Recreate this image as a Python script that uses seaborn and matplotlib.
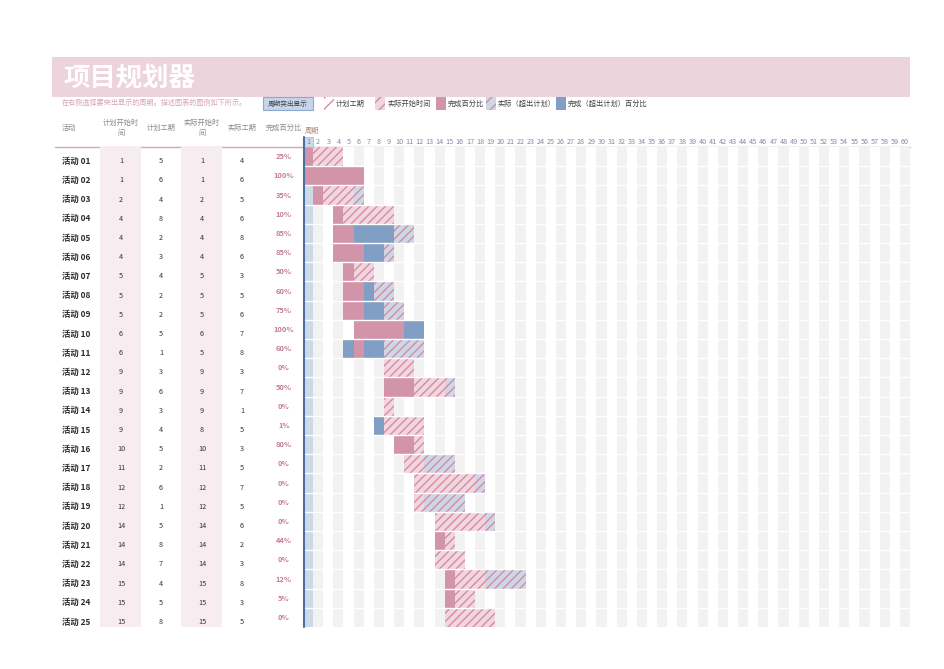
import numpy as np
import pandas as pd
import matplotlib
matplotlib.use("Agg")
import matplotlib.pyplot as plt
import seaborn as sns
from matplotlib.colors import ListedColormap
from matplotlib.patches import Rectangle

# ---------------- data ----------------
activities = ["活动 01", "活动 02", "活动 03", "活动 04", "活动 05", "活动 06", "活动 07",
              "活动 08", "活动 09", "活动 10", "活动 11", "活动 12", "活动 13", "活动 14",
              "活动 15", "活动 16", "活动 17", "活动 18", "活动 19", "活动 20", "活动 21",
              "活动 22", "活动 23", "活动 24", "活动 25"]
plan_start = [1, 1, 2, 4, 4, 4, 5, 5, 5, 6, 6, 9, 9, 9, 9, 10, 11, 12, 12, 14, 14, 14, 15, 15, 15]
plan_dur = [5, 6, 4, 8, 2, 3, 4, 2, 2, 5, 1, 3, 6, 3, 4, 5, 2, 6, 1, 5, 8, 7, 4, 5, 8]
actual_start = [1, 1, 2, 4, 4, 4, 5, 5, 5, 6, 5, 9, 9, 9, 8, 10, 11, 12, 12, 14, 14, 14, 15, 15, 15]
actual_dur = [4, 6, 5, 6, 8, 6, 3, 5, 6, 7, 8, 3, 7, 1, 5, 3, 5, 7, 5, 6, 2, 3, 8, 3, 5]
pct_complete = [0.25, 1.00, 0.35, 0.10, 0.85, 0.85, 0.50, 0.60, 0.75, 1.00, 0.60, 0.00, 0.50,
                0.00, 0.01, 0.80, 0.00, 0.00, 0.00, 0.00, 0.44, 0.00, 0.12, 0.05, 0.00]
periods = list(range(1, 61))
highlight_period = 1

headers = ["活动", "计划开始时\n间", "计划工期", "实际开始时\n间", "实际工期", "完成百分比"]
legend_labels = ["计划工期", "实际开始时间", "完成百分比", "实际（超出计划）", "完成（超出计划）百分比"]
title = "项目规划器"
subtitle = "在右侧选择要突出显示的周期。描述图表的图例如下所示。"

# ---------------- style ----------------
sns.set_theme(style="white")
plt.rcParams["font.family"] = ["Noto Sans CJK SC", "DejaVu Sans"]
plt.rcParams["hatch.linewidth"] = 1.0

C_WHITE = "#FFFFFF"
C_GREY = "#F2F2F2"
C_HL = "#CCD9E7"
C_HPINK = "#F0D6DF"
C_HBLUE = "#CCD8E6"
C_PINK = "#D194A8"
C_BLUE = "#819FC4"
C_HATCH = "#D88AA5"
C_BANNER = "#EDD3DC"
C_TABLE = "#F7ECF0"

# ---------------- cell states ----------------
n_rows, n_per = len(activities), len(periods)
codes = np.zeros((n_rows, n_per), dtype=int)
for i in range(n_rows):
    a, d, ps, pdur, pc = actual_start[i], actual_dur[i], plan_start[i], plan_dur[i], pct_complete[i]
    done_end = int(round(a + d * pc, 6))
    for j, p in enumerate(periods):
        if p == highlight_period:
            base = 2
        else:
            base = 1 if p % 2 == 0 else 0
        c = base
        if a <= p < a + d:
            in_plan = ps <= p < ps + pdur
            done = (p < done_end) or (p == a and pc > 0)
            if done:
                c = 5 if in_plan else 6
            else:
                c = 3 if in_plan else 4
        codes[i, j] = c

grid = pd.DataFrame(codes, index=activities, columns=periods)
cmap = ListedColormap([C_WHITE, C_GREY, C_HL, C_HPINK, C_HBLUE, C_PINK, C_BLUE])

W, H = 945, 669
fig = plt.figure(figsize=(W / 100, H / 100), dpi=100)

# background / decoration axes in pixel coordinates
bg = fig.add_axes([0, 0, 1, 1], zorder=0)
bg.set_xlim(0, W)
bg.set_ylim(H, 0)
bg.axis("off")

bg.add_patch(Rectangle((52, 57), 858, 40, fc=C_BANNER, ec="none"))
bg.text(64, 78, title, fontsize=19, fontweight="bold", color="white", va="center", ha="left")
bg.text(62, 103, subtitle, fontsize=5.1, color="#D9A3B5", style="italic", va="center", ha="left")

# legend
bg.add_patch(Rectangle((263, 97), 50, 13, fc="#C6D5E9", ec="#8EA7CB", lw=0.8))
bg.text(288, 103.5, "周期突出显示", fontsize=4.8, color="#444444", ha="center", va="center")
icons = [(324, C_WHITE, True), (375, C_HPINK, True), (436, C_PINK, False),
         (486, C_HBLUE, True), (556, C_BLUE, False)]
for (x0, fc, hatched), lab in zip(icons, legend_labels):
    bg.add_patch(Rectangle((x0, 97), 10, 13, fc=fc, ec="none"))
    if hatched:
        bg.add_patch(Rectangle((x0, 97), 10, 13, fill=False, hatch="///", ec=C_HATCH, lw=0))
    bg.text(x0 + 12, 103.5, lab, fontsize=5.2, color="#444444", ha="left", va="center")

# header line
bg.plot([55, 910], [146.5, 146.5], color="#D7A6B8", lw=1.0)
bg.text(305, 131, "周期", fontsize=5.2, color="#B08A70", ha="left", va="center")

# ---------------- gantt (seaborn heatmap) ----------------
gx0, gx1, gy0, gy1 = 303, 910, 147, 627
gax = fig.add_axes([gx0 / W, 1 - gy1 / H, (gx1 - gx0) / W, (gy1 - gy0) / H], zorder=2)
sns.heatmap(grid, ax=gax, cmap=cmap, vmin=-0.5, vmax=6.5, cbar=False,
            xticklabels=False, yticklabels=False, linewidths=0)
gax.set_xlabel("")
gax.set_ylabel("")

# hatch overlay on not-yet-completed actual cells
for i in range(n_rows):
    j = 0
    while j < n_per:
        if codes[i, j] in (3, 4):
            k = j
            while k < n_per and codes[i, k] in (3, 4):
                k += 1
            gax.barh(i + 0.5, k - j, left=j, height=1, fill=False, hatch="////",
                     edgecolor=C_HATCH, linewidth=0, zorder=3)
            j = k
        else:
            j += 1

gax.hlines(np.arange(1, n_rows), 0, n_per, colors="white", lw=1.0, zorder=4)

hj = periods.index(highlight_period)
gax.add_patch(Rectangle((hj, -0.5), 1, 0.5, fc=C_HL, ec="#9FB3D1", lw=0.5, clip_on=False, zorder=4))
gax.plot([hj + 0.05, hj + 0.05], [-0.5, n_rows], color="#4E6FA3", lw=1.5, clip_on=False, zorder=5)
for j, p in enumerate(periods):
    gax.text(j + 0.5, -0.25, str(p), fontsize=5.2, color="#8A86A6", ha="center", va="center",
             clip_on=False, zorder=6)
gax.set_xlim(0, n_per)
gax.set_ylim(n_rows, 0)
for s in gax.spines.values():
    s.set_visible(False)

# ---------------- table ----------------
tax = fig.add_axes([52 / W, 1 - gy1 / H, (gx0 - 52) / W, (gy1 - gy0) / H], zorder=1)
tax.set_xlim(52, gx0)
tax.set_ylim(n_rows, 0)
tax.axis("off")
tax.patch.set_alpha(0)
tax.axvspan(100, 141, color=C_TABLE, lw=0, zorder=0)
tax.axvspan(181, 222, color=C_TABLE, lw=0, zorder=0)

col_x = [62, 121, 161, 202, 242, 284]
for hx, htxt in zip(col_x, headers):
    tax.text(hx, -1.0, htxt, fontsize=5.2, color="#8F8A8D", ha="left" if hx == 62 else "center",
             va="center", linespacing=1.3, clip_on=False)

for i in range(n_rows):
    yl = i + 0.5 + 0.24
    tax.text(col_x[0], yl, activities[i], fontsize=6, fontweight="bold", color="#2B2B2B",
             ha="left", va="center")
    for cx, val in zip(col_x[1:5], [plan_start[i], plan_dur[i], actual_start[i], actual_dur[i]]):
        tax.text(cx, yl, str(val), fontsize=5.2, color="#333333", ha="center", va="center")
    tax.text(col_x[5], i + 0.5, f"{int(round(pct_complete[i] * 100))}%", fontsize=5.4,
             fontweight="bold", color="#C57D97", ha="center", va="center")

fig.savefig("out.png", dpi=100)
